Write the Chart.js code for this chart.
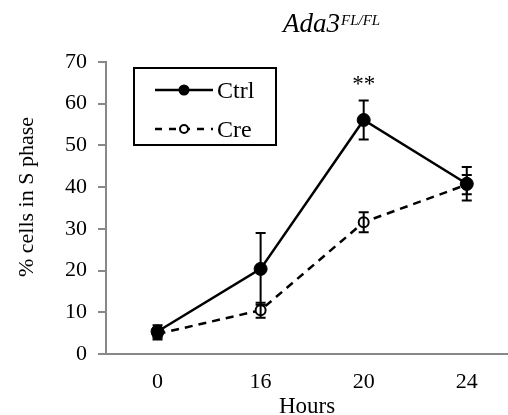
<!DOCTYPE html>
<html>
<head>
<meta charset="utf-8">
<script src="https://cdn.jsdelivr.net/npm/chart.js@4.4.0/dist/chart.umd.min.js"></script>
<style>
  html, body { margin: 0; padding: 0; background: #fff; overflow: hidden; }
  #wrap { width: 508px; height: 415px; }
</style>
</head>
<body>
<div id="wrap"><canvas id="chart"></canvas></div>
<script>
// data
const hours = ['0', '16', '20', '24'];
const ctrl = [5.4, 20.4, 56.1, 40.8];
const ctrlErr = [1.5, 8.6, 4.7, 4.0];
const cre = [4.8, 10.5, 31.6, 40.6];
const creErr = [1.3, 1.8, 2.4, 2.3];
const yMin = 0, yMax = 70, yStep = 10;
const seriesNames = ['Ctrl', 'Cre'];

const serif = '"Liberation Serif", "Times New Roman", serif';

function toPoints(vals) {
    return vals.map(function(v, i) { return { x: i, y: v }; });
}

// error bars, drawn on top of the markers
const errorBars = {
    id: 'errorBars',
    afterDatasetsDraw(chart) {
        const ctx = chart.ctx;
        const xs = chart.scales.x, ys = chart.scales.y;
        const errs = [ctrlErr, creErr];
        chart.data.datasets.forEach(function(ds, d) {
            ctx.save();
            ctx.strokeStyle = '#000';
            ctx.lineWidth = 2;
            ds.data.forEach(function(p, i) {
                const x = xs.getPixelForValue(p.x);
                const yt = ys.getPixelForValue(p.y + errs[d][i]);
                const yb = ys.getPixelForValue(p.y - errs[d][i]);
                ctx.beginPath();
                ctx.moveTo(x, yt); ctx.lineTo(x, yb);
                ctx.moveTo(x - 5, yt); ctx.lineTo(x + 5, yt);
                ctx.moveTo(x - 5, yb); ctx.lineTo(x + 5, yb);
                ctx.stroke();
            });
            ctx.restore();
        });
    }
};

// title, y title, significance stars and boxed legend
const extras = {
    id: 'extras',
    afterDraw(chart) {
        const ctx = chart.ctx;
        const xs = chart.scales.x, ys = chart.scales.y;
        ctx.save();
        ctx.fillStyle = '#000';
        ctx.textBaseline = 'alphabetic';

        // title with superscript
        ctx.font = 'italic 27px ' + serif;
        ctx.textAlign = 'left';
        ctx.fillText('Ada3', 283, 32);
        const w = ctx.measureText('Ada3').width;
        ctx.font = 'italic 15px ' + serif;
        ctx.fillText('FL/FL', 283 + w + 1, 25);

        // y axis title
        ctx.save();
        ctx.translate(27, 197);
        ctx.rotate(-Math.PI / 2);
        ctx.font = '22px ' + serif;
        ctx.textAlign = 'center';
        ctx.textBaseline = 'middle';
        ctx.fillText('% cells in S phase', 0, 0);
        ctx.restore();

        // ** above the 20 h point
        ctx.font = '23px ' + serif;
        ctx.textAlign = 'center';
        ctx.fillText('**', xs.getPixelForValue(2), ys.getPixelForValue(ctrl[2] + ctrlErr[2]) - 9);

        // legend box
        ctx.strokeStyle = '#000';
        ctx.lineWidth = 2;
        ctx.strokeRect(134, 68, 142, 77);
        const rows = [90, 129];
        const dashes = [[], [7, 7]];
        const radii = [4.5, 4];
        chart.data.datasets.forEach(function(ds, d) {
            const y = rows[d];
            ctx.save();
            ctx.lineWidth = 2.5;
            ctx.setLineDash(dashes[d]);
            ctx.beginPath();
            ctx.moveTo(155, y); ctx.lineTo(213, y);
            ctx.stroke();
            ctx.restore();
            ctx.beginPath();
            ctx.arc(184, y, radii[d], 0, Math.PI * 2);
            ctx.fillStyle = ds.pointBackgroundColor;
            ctx.fill();
            ctx.lineWidth = 2;
            ctx.stroke();
            ctx.fillStyle = '#000';
            ctx.font = '24px ' + serif;
            ctx.textAlign = 'left';
            ctx.fillText(seriesNames[d], 217, y + 8);
        });
        ctx.restore();
    }
};

new Chart(document.getElementById('chart'), {
    type: 'line',
    data: {
        datasets: [
            {
                label: seriesNames[0],
                data: toPoints(ctrl),
                borderColor: '#000',
                borderWidth: 2.5,
                pointRadius: 6.5,
                pointBackgroundColor: '#000',
                pointBorderColor: '#000',
                pointBorderWidth: 1,
                tension: 0
            },
            {
                label: seriesNames[1],
                data: toPoints(cre),
                borderColor: '#000',
                borderWidth: 2.5,
                borderDash: [8, 6],
                pointRadius: 5,
                pointBackgroundColor: '#fff',
                pointBorderColor: '#000',
                pointBorderWidth: 2,
                tension: 0
            }
        ]
    },
    options: {
        responsive: true,
        maintainAspectRatio: false,
        animation: false,
        layout: { autoPadding: false, padding: { top: 62, right: 0, left: 0, bottom: 0 } },
        plugins: {
            legend: { display: false },
            tooltip: { enabled: false }
        },
        scales: {
            x: {
                type: 'linear',
                min: -0.5,
                max: 3.4,
                afterBuildTicks: function(scale) {
                    scale.ticks = hours.map(function(h, i) { return { value: i }; });
                },
                afterFit: function(scale) {
                    scale.height = 61;
                    scale.paddingLeft = 0;
                    scale.paddingRight = 0;
                },
                grid: { display: false, drawTicks: false },
                border: { color: '#888', width: 2 },
                ticks: {
                    color: '#000',
                    font: { family: serif, size: 22 },
                    padding: 15,
                    maxRotation: 0,
                    callback: function(v) { return hours[v]; }
                },
                title: {
                    display: true,
                    text: 'Hours',
                    color: '#000',
                    font: { family: serif, size: 23, lineHeight: 1 },
                    padding: { top: 0, bottom: -3 }
                }
            },
            y: {
                min: yMin,
                max: yMax,
                afterFit: function(scale) { scale.width = 106; },
                grid: { drawOnChartArea: false, drawTicks: true, tickLength: 8, color: '#888', lineWidth: 2 },
                border: { color: '#888', width: 2 },
                ticks: {
                    stepSize: yStep,
                    color: '#000',
                    font: { family: serif, size: 22 },
                    padding: 11
                }
            }
        }
    },
    plugins: [errorBars, extras]
});
</script>
</body>
</html>
